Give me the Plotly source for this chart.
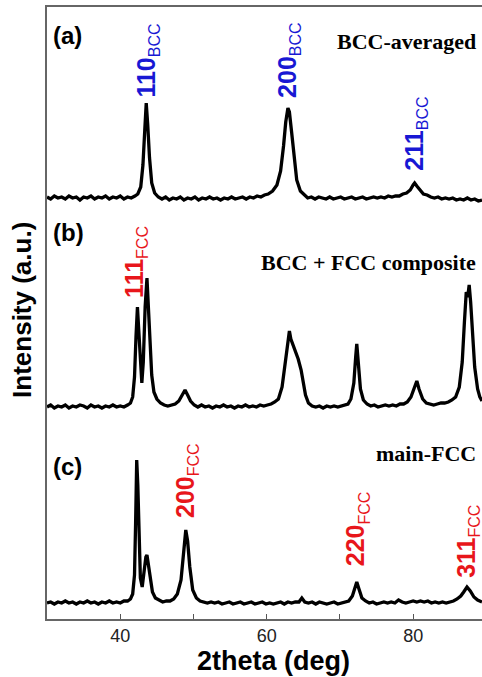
import plotly.graph_objects as go

# ---------------- data (intensity above each pattern's baseline, a.u.) ----------------
pattern_a = [(30.0,1),(30.5,-1),(31.0,2),(31.5,0),(32.0,1),(32.5,-1),(33.0,2),(33.5,0),(34.0,1),(34.5,-2),
(35.0,1),(35.5,0),(36.0,2),(36.5,-1),(37.0,1),(37.5,0),(38.0,2),(38.5,-1),(39.0,1),(39.5,0),(40.0,2),(40.5,-1),
(41.0,1),(41.5,0),(42.0,2),(42.4,4),(42.8,11),(43.1,33),(43.35,68),(43.55,95),(43.75,74),(44.0,40),(44.3,15),
(44.7,5),(45.2,1),(45.7,-1),(46.2,1),(46.7,-2),(47.2,0),(47.7,-1),(48.2,1),(48.7,-2),(49.2,0),(49.7,-1),(50.2,1),
(50.7,-2),(51.2,0),(51.7,-1),(52.2,1),(52.7,-1),(53.2,0),(53.7,-2),(54.2,0),(54.7,-1),(55.2,1),(55.7,-1),(56.2,0),
(56.7,1),(57.2,-1),(57.7,1),(58.2,0),(58.7,2),(59.2,1),(59.7,3),(60.2,4),(60.8,7),(61.4,13),(61.9,27),(62.3,52),
(62.6,76),(62.9,90),(63.1,86),(63.4,66),(63.7,42),(64.1,18),(64.6,7),(65.1,3),(65.6,0),(66.1,1),(66.6,-1),(67.1,1),
(67.6,0),(68.1,-1),(68.6,1),(69.1,-1),(69.6,0),(70.1,1),(70.6,-1),(71.1,0),(71.6,1),(72.1,-1),(72.6,0),(73.1,1),
(73.6,-1),(74.1,0),(74.6,1),(75.1,0),(75.6,1),(76.1,0),(76.6,2),(77.1,1),(77.6,2),(78.1,2),(78.6,4),(79.1,5),
(79.6,8),(80.0,13),(80.2,15),(80.5,12),(80.9,8),(81.4,4),(81.9,3),(82.4,1),(82.9,0),(83.4,1),(83.9,-1),(84.4,0),
(84.9,-1),(85.4,0),(85.9,-2),(86.4,-1),(86.9,-2),(87.4,0),(87.9,-2),(88.4,-1),(88.9,-3),(89.4,-2)]

pattern_b = [(30.0,0),(30.5,2),(31.0,-1),(31.5,1),(32.0,0),(32.5,2),(33.0,-1),(33.5,1),(34.0,0),(34.5,2),(35.0,1),
(35.5,-1),(36.0,2),(36.5,0),(37.0,1),(37.5,-1),(38.0,1),(38.5,0),(39.0,2),(39.5,0),(40.0,1),(40.5,0),(41.0,2),
(41.4,4),(41.7,10),(41.95,30),(42.15,70),(42.35,100),(42.55,74),(42.75,40),(42.95,24),(43.15,45),(43.4,100),
(43.65,129),(43.85,102),(44.05,62),(44.3,32),(44.6,15),(45.0,8),(45.5,4),(46.0,2),(46.5,1),(47.0,2),(47.5,3),
(48.0,6),(48.5,12),(48.85,17),(49.2,12),(49.6,6),(50.1,2),(50.6,0),(51.1,2),(51.6,0),(52.1,1),(52.6,-1),(53.1,1),
(53.6,0),(54.1,2),(54.6,0),(55.1,1),(55.6,-1),(56.1,1),(56.6,0),(57.1,2),(57.6,0),(58.1,1),(58.6,0),(59.1,2),
(59.6,1),(60.1,2),(60.6,3),(61.1,5),(61.6,8),(62.1,20),(62.5,42),(62.85,64),(63.1,76),(63.3,68),(63.6,62),
(63.9,56),(64.3,48),(64.7,37),(65.0,24),(65.3,12),(65.7,4),(66.2,1),(66.7,0),(67.2,1),(67.7,-1),(68.2,1),(68.7,0),
(69.2,1),(69.7,0),(70.2,1),(70.7,2),(71.1,3),(71.5,8),(71.9,24),(72.15,50),(72.3,63),(72.5,45),(72.8,18),(73.2,7),
(73.7,3),(74.2,1),(74.7,2),(75.2,0),(75.7,1),(76.2,2),(76.7,1),(77.2,2),(77.7,1),(78.2,3),(78.7,3),(79.2,5),
(79.7,10),(80.2,20),(80.5,26),(80.8,18),(81.3,8),(81.8,4),(82.3,3),(82.8,2),(83.3,3),(83.8,4),(84.3,4),(84.8,5),
(85.3,7),(85.8,10),(86.3,20),(86.7,45),(87.0,85),(87.25,115),(87.45,110),(87.65,122),(87.85,105),(88.1,70),
(88.4,40),(88.8,18),(89.1,10),(89.4,6)]

pattern_c = [(30.0,0),(30.5,1),(31.0,-1),(31.5,1),(32.0,0),(32.5,2),(33.0,0),(33.5,1),(34.0,-1),(34.5,1),(35.0,0),
(35.5,2),(36.0,0),(36.5,1),(37.0,-1),(37.5,1),(38.0,0),(38.5,2),(39.0,0),(39.5,1),(40.0,0),(40.5,2),(41.0,2),
(41.4,4),(41.7,9),(41.95,28),(42.1,80),(42.25,143),(42.4,118),(42.55,60),(42.75,25),(43.0,16),(43.25,30),
(43.5,46),(43.65,48),(43.85,38),(44.1,21),(44.4,11),(44.8,5),(45.3,3),(45.8,1),(46.3,2),(46.8,2),(47.3,4),
(47.8,9),(48.3,23),(48.7,52),(48.95,73),(49.2,62),(49.5,36),(49.9,13),(50.4,5),(50.9,2),(51.4,1),(51.9,0),
(52.4,1),(52.9,0),(53.4,1),(53.9,-1),(54.4,0),(54.9,1),(55.4,-1),(55.9,0),(56.4,1),(56.9,-1),(57.4,0),(57.9,1),
(58.4,-1),(58.9,0),(59.4,1),(59.9,-1),(60.4,0),(60.9,-1),(61.4,0),(61.9,1),(62.4,-1),(62.9,1),(63.4,0),(63.9,1),
(64.4,1),(64.8,5),(65.2,1),(65.7,0),(66.2,1),(66.7,-1),(67.2,1),(67.7,0),(68.2,-1),(68.7,0),(69.2,1),(69.7,-1),
(70.2,0),(70.7,1),(71.2,2),(71.7,7),(72.05,15),(72.3,21),(72.6,14),(73.0,5),(73.5,2),(74.0,0),(74.5,1),(75.0,-1),
(75.5,0),(76.0,1),(76.5,0),(77.0,1),(77.5,0),(78.0,3),(78.5,1),(79.0,0),(79.5,1),(80.0,2),(80.5,1),(81.0,2),
(81.5,1),(82.0,2),(82.5,0),(83.0,1),(83.5,0),(84.0,1),(84.5,0),(85.0,1),(85.5,2),(86.0,4),(86.5,7),(86.9,11),
(87.35,16),(87.8,12),(88.3,6),(88.8,3),(89.4,1)]

patterns = [pattern_a, pattern_b, pattern_c]
offsets = [421, 212, 16]          # vertical stacking offsets (a.u.)
panel_letters = ["(a)", "(b)", "(c)"]
panel_names = ["BCC-averaged", "BCC + FCC composite", "main-FCC"]

# peak labels: (pattern index, hkl, phase, 2theta, label height above baseline)
peak_labels = [
    (0, "110", "BCC", 43.6, 98),
    (0, "200", "BCC", 62.9, 98),
    (0, "211", "BCC", 80.2, 25),
    (1, "111", "FCC", 42.0, 107),
    (2, "200", "FCC", 49.05, 83),
    (2, "220", "FCC", 72.3, 35),
    (2, "311", "FCC", 87.4, 23),
]
phase_colors = {"BCC": "#1818d4", "FCC": "#e8161b"}

x_ticks = [30, 40, 50, 60, 70, 80, 90]
x_ticktext = ["", "40", "", "60", "", "80", ""]

SANS = "Liberation Sans, Arial, sans-serif"
SERIF = "Liberation Serif, Times New Roman, serif"

fig = go.Figure()
for pat, off in zip(patterns, offsets):
    xs = [p[0] for p in pat]
    ys = [p[1] + off for p in pat]
    fig.add_trace(go.Scatter(x=xs, y=ys, mode="lines",
                             line=dict(color="black", width=3.3), showlegend=False))

ann = []
panel_pos = [(0.953, 0.944), (0.632, 0.583), (0.25, 0.27)]
for (ly, ny), letter, name in zip(panel_pos, panel_letters, panel_names):
    ann.append(dict(text="<b>%s</b>" % letter, xref="paper", yref="paper", x=0.01, y=ly,
                    xanchor="left", yanchor="middle", showarrow=False,
                    font=dict(family=SANS, size=24, color="black")))
    ann.append(dict(text="<b>%s</b>" % name, xref="paper", yref="paper", x=0.99, y=ny,
                    xanchor="right", yanchor="middle", showarrow=False,
                    font=dict(family=SERIF, size=22, color="black")))

for idx, hkl, phase, tt, h in peak_labels:
    ann.append(dict(text="<b>%s</b><sub><span style='font-size:16px'>%s</span></sub>" % (hkl, phase),
                    x=tt, y=offsets[idx] + h, xref="x", yref="y",
                    xanchor="center", yanchor="bottom", textangle=-90, showarrow=False,
                    font=dict(family=SANS, size=25, color=phase_colors[phase])))

# axis titles
ann.append(dict(text="<b>2theta (deg)</b>", xref="paper", yref="paper", x=0.52, y=0.0,
                yshift=-42, xanchor="center", yanchor="middle", showarrow=False,
                font=dict(family=SANS, size=27, color="black")))
ann.append(dict(text="<b>Intensity (a.u.)</b>", xref="paper", yref="paper", x=0, y=0.505,
                xshift=-25, xanchor="center", yanchor="middle", textangle=-90, showarrow=False,
                font=dict(family=SANS, size=26, color="black")))

fig.update_layout(
    width=482, height=677,
    margin=dict(l=47, r=0, t=7, b=58),
    paper_bgcolor="white", plot_bgcolor="white",
    annotations=ann,
    xaxis=dict(range=[30, 89.4], tickvals=x_ticks, ticktext=x_ticktext,
               ticks="inside", ticklen=5, tickwidth=1.2, tickcolor="#555",
               showline=True, linecolor="#666", linewidth=1.5, mirror=True,
               showgrid=False, zeroline=False,
               tickfont=dict(family=SANS, size=18, color="#222")),
    yaxis=dict(range=[0, 612], showticklabels=False, ticks="",
               showline=True, linecolor="#666", linewidth=1.5, mirror=False,
               showgrid=False, zeroline=False),
)

fig.write_html("out.html")
